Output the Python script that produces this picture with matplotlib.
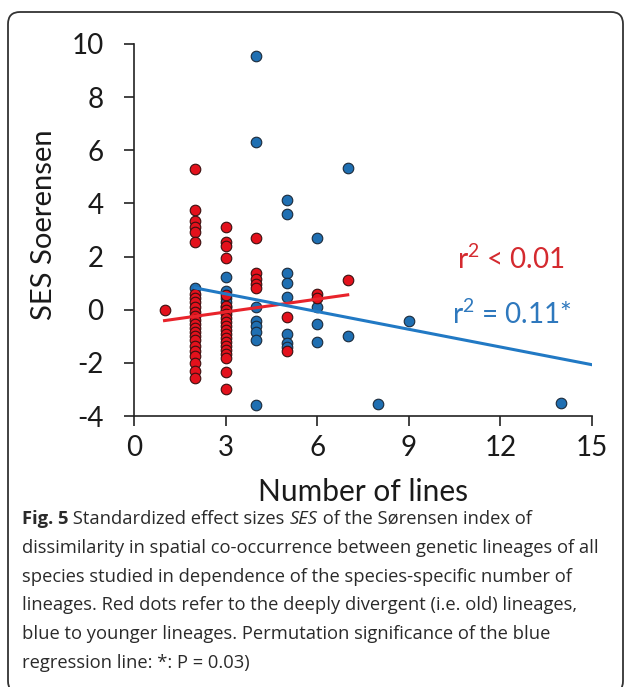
import matplotlib.pyplot as plt
from matplotlib.patches import FancyBboxPatch

# number of lineages per species and SES Soerensen values
red_lines = [1, 2, 3, 4, 5, 6, 7]
red_ses = [
    [0.0],
    [5.3, 3.77, 3.35, 3.12, 2.93, 2.56, 0.6, 0.45, 0.3, 0.1, -0.1, -0.25, -0.4,
     -0.55, -0.7, -0.85, -1.0, -1.15, -1.35, -1.55, -1.75, -2.0, -2.3, -2.57],
    [3.12, 2.56, 2.4, 1.95, 0.55, 0.15, 0.0, -0.15, -0.3, -0.45, -0.6, -0.75,
     -0.9, -1.05, -1.2, -1.35, -1.5, -1.65, -1.8, -2.33, -2.97],
    [2.69, 1.39, 1.15, 0.95, 0.83],
    [-0.28, -1.55],
    [0.6, 0.45],
    [1.11],
]

blue_lines = [2, 3, 4, 5, 6, 7, 8, 9, 14]
blue_ses = [
    [0.8],
    [1.24, 0.7, 0.45, 0.3, 0.1, -0.05],
    [9.53, 6.32, 0.09, -0.41, -0.6, -0.84, -1.15, -3.57],
    [4.12, 3.62, 1.39, 1.0, 0.46, -0.93, -1.27, -1.4],
    [2.69, 0.09, -0.53, -1.21],
    [5.32, -0.99],
    [-3.55],
    [-0.41],
    [-3.5],
]

# regression lines (end points)
red_fit_x = [1, 7]
red_fit_y = [-0.41, 0.56]
blue_fit_x = [2, 15]
blue_fit_y = [0.82, -2.07]

red = "#e3111c"
blue = "#1f6fb2"

plt.rcParams['font.family'] = ['Lato', 'DejaVu Sans']
plt.rcParams['axes.unicode_minus'] = False
plt.rcParams['mathtext.fontset'] = 'custom'
plt.rcParams['mathtext.rm'] = 'Lato'
plt.rcParams['mathtext.it'] = 'Lato'

fig = plt.figure(figsize=(6.27, 6.87), dpi=100)
ax = fig.add_axes([134/627, 1 - 416/687, 458/627, 372/687])

bx = [n for n, vals in zip(blue_lines, blue_ses) for v in vals]
by = [v for vals in blue_ses for v in vals]
rx = [n for n, vals in zip(red_lines, red_ses) for v in vals]
ry = [v for vals in red_ses for v in vals]

ax.scatter(bx, by, s=58, color=blue, edgecolor="#1b2a3a", linewidth=0.8, zorder=3)
ax.scatter(rx, ry, s=58, color=red, edgecolor="#3a1010", linewidth=0.8, zorder=3)
ax.plot(red_fit_x, red_fit_y, color="#e8232b", lw=2.2, zorder=4)
ax.plot(blue_fit_x, blue_fit_y, color="#2179c4", lw=2.2, zorder=4)

ax.set_xlim(0, 15)
ax.set_ylim(-4, 10)
ax.set_xticks(range(0, 16, 3))
ax.set_yticks(range(-4, 11, 2))
ax.spines['top'].set_visible(False)
ax.spines['right'].set_visible(False)
for s in ['left', 'bottom']:
    ax.spines[s].set_linewidth(1.2)
    ax.spines[s].set_color("#222222")
ax.tick_params(length=7, width=1.2, color="#222222", labelsize=20,
               labelcolor="#1a1a1a")
ax.tick_params(axis='x', pad=7)
ax.tick_params(axis='y', pad=15)

ax.set_xlabel("Number of lines", fontsize=21.5, color="#1a1a1a")
ax.xaxis.set_label_coords(0.5, -0.168)
ax.set_ylabel("SES Soerensen", fontsize=21, color="#1a1a1a", va='center')
ax.yaxis.set_label_coords(-0.197, 0.515)

ax.text(10.58, 1.55, r"r$^{2}$ < 0.01", color="#d42a2f", fontsize=20, va='baseline')
ax.text(10.4, -0.55, r"r$^{2}$ = 0.11*", color="#2e78bd", fontsize=20, va='baseline')

# caption
cap = fig.add_axes([0, 0, 1, 1])
cap.axis('off')
cap.set_xlim(0, 627)
cap.set_ylim(687, 0)
cfs = 13.2
cfont = dict(family='Open Sans', fontsize=cfs, color="#2a2a2a", va='baseline')

t = cap.text(22, 524, "Fig. 5", fontweight='bold', **cfont)
t = cap.annotate(" Standardized effect sizes ", xy=(1, 0), xycoords=t, va='bottom',
                 family='Open Sans', fontsize=cfs, color="#2a2a2a")
t = cap.annotate("SES", xy=(1, 0), xycoords=t, va='bottom', style='italic',
                 family='Open Sans', fontsize=cfs, color="#2a2a2a")
t = cap.annotate(" of the Sørensen index of", xy=(1, 0), xycoords=t, va='bottom',
                 family='Open Sans', fontsize=cfs, color="#2a2a2a")

caption = [
    "dissimilarity in spatial co-occurrence between genetic lineages of all",
    "species studied in dependence of the species-specific number of",
    "lineages. Red dots refer to the deeply divergent (i.e. old) lineages,",
    "blue to younger lineages. Permutation significance of the blue",
    "regression line: *: P = 0.03)",
]
for i, line in enumerate(caption):
    cap.text(22, 524 + 28.8 * (i + 1), line, **cfont)

fig.add_artist(FancyBboxPatch((8, -6), 615, 681,
                              boxstyle="round,pad=0,rounding_size=12",
                              transform=None, fill=False, edgecolor="#333333",
                              linewidth=1.3))

fig.savefig("out.png", dpi=100)
